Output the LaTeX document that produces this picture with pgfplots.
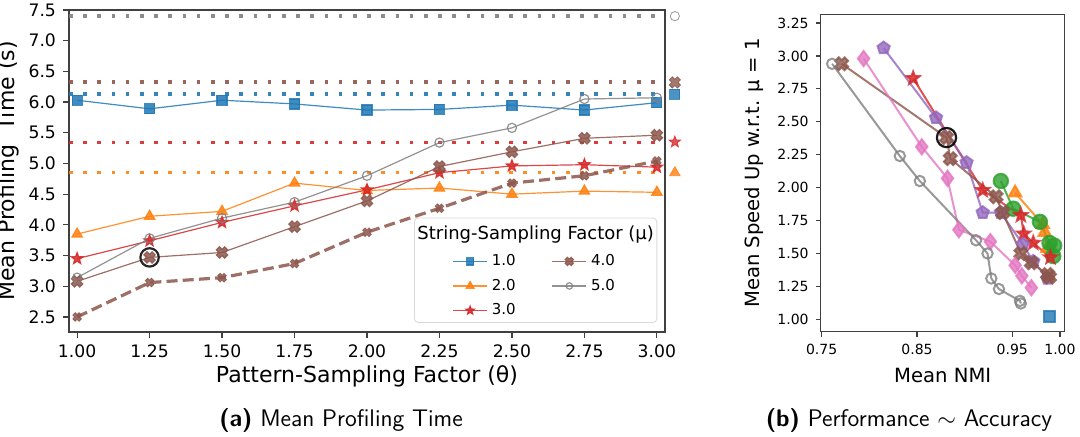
\documentclass[border=0pt]{standalone}
\usepackage{fontspec}
\setmainfont{DejaVu Sans}
\usepackage{pgfplots}
\pgfplotsset{compat=1.18}
\usetikzlibrary{plotmarks}

\definecolor{tblue}{HTML}{1F77B4}
\definecolor{torange}{HTML}{FF7F0E}
\definecolor{tgreen}{HTML}{2CA02C}
\definecolor{tred}{HTML}{D62728}
\definecolor{tpurple}{HTML}{9467BD}
\definecolor{tbrown}{HTML}{8C564B}
\definecolor{tpink}{HTML}{E377C2}
\definecolor{tgray}{HTML}{7F7F7F}

% filled "X" like matplotlib
\pgfdeclareplotmark{X}{%
  \pgfpathmoveto{\pgfpoint{-0.976\pgfplotmarksize}{0.438\pgfplotmarksize}}%
  \pgfpathlineto{\pgfpoint{-0.438\pgfplotmarksize}{0.976\pgfplotmarksize}}%
  \pgfpathlineto{\pgfpoint{0pt}{0.537\pgfplotmarksize}}%
  \pgfpathlineto{\pgfpoint{0.438\pgfplotmarksize}{0.976\pgfplotmarksize}}%
  \pgfpathlineto{\pgfpoint{0.976\pgfplotmarksize}{0.438\pgfplotmarksize}}%
  \pgfpathlineto{\pgfpoint{0.537\pgfplotmarksize}{0pt}}%
  \pgfpathlineto{\pgfpoint{0.976\pgfplotmarksize}{-0.438\pgfplotmarksize}}%
  \pgfpathlineto{\pgfpoint{0.438\pgfplotmarksize}{-0.976\pgfplotmarksize}}%
  \pgfpathlineto{\pgfpoint{0pt}{-0.537\pgfplotmarksize}}%
  \pgfpathlineto{\pgfpoint{-0.438\pgfplotmarksize}{-0.976\pgfplotmarksize}}%
  \pgfpathlineto{\pgfpoint{-0.976\pgfplotmarksize}{-0.438\pgfplotmarksize}}%
  \pgfpathlineto{\pgfpoint{-0.537\pgfplotmarksize}{0pt}}%
  \pgfpathclose
  \pgfusepathqfillstroke}
% filled five-pointed star
\pgfdeclareplotmark{fstar}{%
  \pgfpathmoveto{\pgfpointpolar{90}{\pgfplotmarksize}}%
  \pgfpathlineto{\pgfpointpolar{126}{0.42\pgfplotmarksize}}%
  \pgfpathlineto{\pgfpointpolar{162}{\pgfplotmarksize}}%
  \pgfpathlineto{\pgfpointpolar{198}{0.42\pgfplotmarksize}}%
  \pgfpathlineto{\pgfpointpolar{234}{\pgfplotmarksize}}%
  \pgfpathlineto{\pgfpointpolar{270}{0.42\pgfplotmarksize}}%
  \pgfpathlineto{\pgfpointpolar{306}{\pgfplotmarksize}}%
  \pgfpathlineto{\pgfpointpolar{342}{0.42\pgfplotmarksize}}%
  \pgfpathlineto{\pgfpointpolar{18}{\pgfplotmarksize}}%
  \pgfpathlineto{\pgfpointpolar{54}{0.42\pgfplotmarksize}}%
  \pgfpathclose
  \pgfusepathqfillstroke}

\pgfplotsset{
  sA/.style={tblue, mark=square*, mark size=2.5pt},
  sB/.style={torange, mark=triangle*, mark size=3pt},
  sC/.style={tred, mark=fstar, mark size=3pt},
  sD/.style={tbrown, mark=X, mark size=2.9pt},
  sE/.style={tgray, mark=o, mark size=2.3pt},
  ln/.style={line width=0.6pt, opacity=0.85, mark options={solid}},
  hline/.style={line width=1.8pt, dash pattern=on 1.8pt off 5.3pt, line cap=butt, opacity=0.9},
  mpl/.style={
    scale only axis, clip=false,
    axis line style={black!75, line width=0.6pt},
    tick style={black!75, line width=0.6pt},
    tick align=outside, tick pos=left,
  },
}

\pgfplotstableread{
x    m1   m2   m3   m4   m4d  m5
1.00 6.03 3.85 3.45 3.08 2.50 3.14
1.25 5.89 4.14 3.74 3.47 3.06 3.78
1.50 6.03 4.22 4.04 3.55 3.14 4.11
1.75 5.97 4.68 4.31 3.97 3.37 4.37
2.00 5.87 4.56 4.57 4.39 3.88 4.80
2.25 5.88 4.60 4.85 4.95 4.27 5.34
2.50 5.95 4.50 4.96 5.19 4.68 5.58
2.75 5.87 4.55 4.98 5.41 4.80 6.05
3.00 5.99 4.53 4.94 5.46 5.04 6.07
}\timetab

\begin{document}
\begin{tikzpicture}
\useasboundingbox (0,0) rectangle (540pt,218.5pt);

% ---------------- (a) ----------------
\begin{axis}[mpl,
  at={(34.5pt,52.5pt)}, anchor=south west,
  width=298pt, height=161pt,
  xmin=0.972, xmax=3.028, ymin=2.255, ymax=7.5,
  xtick={1,1.25,1.5,1.75,2,2.25,2.5,2.75,3},
  xticklabels={1.00,1.25,1.50,1.75,2.00,2.25,2.50,2.75,3.00},
  ytick={2.5,3,3.5,4,4.5,5,5.5,6,6.5,7,7.5},
  yticklabels={2.5,3.0,3.5,4.0,4.5,5.0,5.5,6.0,6.5,7.0,7.5},
  major tick length=3pt,
  tick label style={font=\fontsize{8.6}{10}\selectfont},
  label style={font=\fontsize{11}{13}\selectfont},
  xlabel={Pattern-Sampling Factor (θ)},
  ylabel={Mean Profiling\ \ Time (s)},
  xlabel style={yshift=3pt},
  ylabel style={yshift=-2pt},
  legend columns=2,
  legend cell align=left,
  legend style={at={(0.987,0.028)}, anchor=south east,
    draw=black!15, rounded corners=2pt, fill=white,
    inner xsep=19pt, inner ysep=0.5pt, row sep=1.2pt,
    font=\fontsize{7.5}{9}\selectfont,
    /tikz/every even column/.append style={column sep=16pt},
    label={[anchor=north, yshift=-0.5pt, font=\fontsize{9}{10}\selectfont]north:String-Sampling Factor (μ)}},
]
% dotted reference levels
\addplot[forget plot, hline, tgray]   coordinates {(0.972,7.40) (3.028,7.40)};
\addplot[forget plot, hline, tbrown]  coordinates {(0.972,6.33) (3.028,6.33)};
\addplot[forget plot, hline, tblue]   coordinates {(0.972,6.13) (3.028,6.13)};
\addplot[forget plot, hline, tred]    coordinates {(0.972,5.34) (3.028,5.34)};
\addplot[forget plot, hline, torange] coordinates {(0.972,4.85) (3.028,4.85)};
% end markers outside the frame
\addplot[forget plot, only marks, sE, opacity=0.8] coordinates {(3.062,7.40)};
\addplot[forget plot, only marks, sD, opacity=0.8] coordinates {(3.062,6.32)};
\addplot[forget plot, only marks, sA, opacity=0.8] coordinates {(3.062,6.13)};
\addplot[forget plot, only marks, sC, opacity=0.8] coordinates {(3.062,5.35)};
\addplot[forget plot, only marks, sB, opacity=0.8] coordinates {(3.062,4.85)};
% series
\addplot[forget plot, ln, sA] table[x=x, y=m1] {\timetab};
\addplot[forget plot, ln, sB] table[x=x, y=m2] {\timetab};
\addplot[forget plot, ln, sC] table[x=x, y=m3] {\timetab};
\addplot[forget plot, ln, sD] table[x=x, y=m4] {\timetab};
\addplot[forget plot, tbrown, line width=1.6pt, dash pattern=on 5.5pt off 2.6pt, opacity=0.85,
  mark=X, mark size=2.2pt, mark options={solid, line width=0.4pt}] table[x=x, y=m4d] {\timetab};
\addplot[forget plot, ln, sE] table[x=x, y=m5] {\timetab};
\addplot[forget plot, only marks, black!85, mark=o, mark size=4.6pt, line width=1.1pt] coordinates {(1.25,3.47)};
% legend
\addlegendimage{empty legend}\addlegendentry{\rule{0pt}{9pt}}
\addlegendimage{empty legend}\addlegendentry{}
\addlegendimage{ln, sA, mark size=1.8pt}\addlegendentry{1.0}
\addlegendimage{ln, sD, mark size=2.1pt}\addlegendentry{4.0}
\addlegendimage{ln, sB, mark size=2.2pt}\addlegendentry{2.0}
\addlegendimage{ln, sE, mark size=1.6pt}\addlegendentry{5.0}
\addlegendimage{ln, sC, mark size=2.2pt}\addlegendentry{3.0}
\end{axis}

% ---------------- (b) ----------------
\begin{axis}[mpl,
  at={(410.35pt,52.65pt)}, anchor=south west,
  width=122pt, height=158.5pt,
  xmin=0.749, xmax=1.005, ymin=0.906, ymax=3.313,
  xtick={0.75,0.85,0.95,1.00},
  xticklabels={0.75,0.85,0.95,1.00},
  ytick={1,1.25,1.5,1.75,2,2.25,2.5,2.75,3,3.25},
  yticklabels={1.00,1.25,1.50,1.75,2.00,2.25,2.50,2.75,3.00,3.25},
  major tick length=2.5pt,
  tick label style={font=\fontsize{7}{8}\selectfont},
  label style={font=\fontsize{9.8}{11}\selectfont},
  xlabel={Mean NMI},
  ylabel={Mean Speed Up w.r.t. μ = 1},
  every axis plot/.append style={line width=1pt, opacity=0.8, mark options={solid}},
]
\addplot[only marks, tblue, mark=square*, mark size=2.8pt] coordinates {(0.989,1.02)};
\addplot[torange, mark=triangle*, mark size=3.6pt] coordinates {
  (0.953,1.96) (0.982,1.72) (0.984,1.66) (0.987,1.54)};
\addplot[tgreen, mark=*, mark size=3.6pt] coordinates {
  (0.938,2.05) (0.951,1.84) (0.979,1.74) (0.989,1.58) (0.994,1.56) (0.993,1.48)};
\addplot[tred, mark=fstar, mark size=3.4pt] coordinates {
  (0.846,2.83) (0.919,1.98) (0.959,1.79) (0.962,1.65) (0.972,1.58) (0.990,1.47)};
\addplot[tpurple, mark=pentagon*, mark size=3.2pt] coordinates {
  (0.815,3.06) (0.870,2.53) (0.902,2.19) (0.919,1.81) (0.938,1.81) (0.961,1.57) (0.972,1.44) (0.987,1.31)};
\addplot[tbrown, mark=X, mark size=3.3pt] coordinates {
  (0.771,2.94) (0.881,2.38) (0.885,2.22) (0.933,1.93) (0.940,1.81) (0.959,1.50) (0.970,1.43) (0.987,1.34) (0.989,1.32)};
\addplot[tpink, mark=diamond*, mark size=3.8pt] coordinates {
  (0.794,2.98) (0.855,2.31) (0.882,2.07) (0.894,1.68) (0.927,1.59) (0.953,1.41) (0.960,1.33) (0.970,1.24)};
\addplot[tgray, mark=o, mark size=2.6pt] coordinates {
  (0.761,2.94) (0.832,2.24) (0.853,2.05) (0.912,1.60) (0.924,1.50) (0.928,1.31) (0.936,1.23) (0.958,1.14) (0.959,1.12)};
\addplot[only marks, black, opacity=0.9, mark=o, mark size=4.8pt, line width=1.1pt] coordinates {(0.881,2.38)};
\end{axis}

\node[anchor=base, font=\sffamily\fontsize{12}{14}\selectfont] at (170.5pt,5.2pt) {\textbf{(a)} Mean Profiling Time};
\node[anchor=base, font=\sffamily\fontsize{12}{14}\selectfont] at (454.5pt,5.2pt) {\textbf{(b)} Performance $\sim$ Accuracy};
\end{tikzpicture}
\end{document}
